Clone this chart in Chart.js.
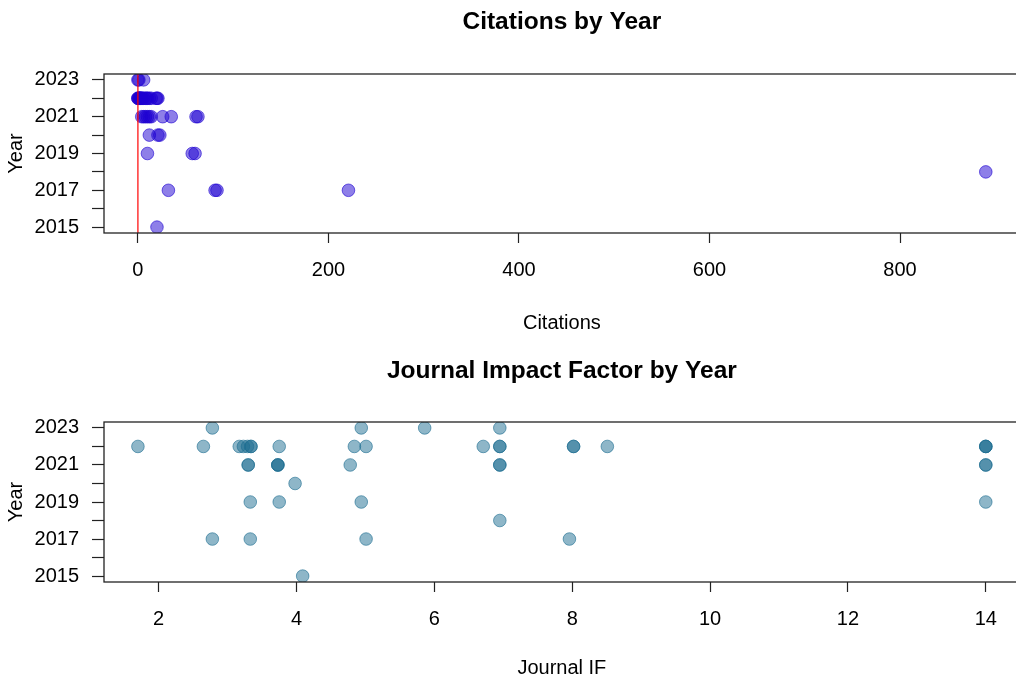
<!DOCTYPE html>
<html>
<head>
<meta charset="utf-8">
<script src="https://cdn.jsdelivr.net/npm/chart.js@4.4.1/dist/chart.umd.min.js"></script>
<style>
  html, body { margin: 0; padding: 0; background: #fff; overflow: hidden; width: 1016px; height: 682px; }
  canvas { position: absolute; left: 0; }
  #citesChart { top: 0; }
  #ifChart { top: 345px; }
</style>
</head>
<body>
<canvas id="citesChart" width="1027" height="345"></canvas>
<canvas id="ifChart" width="1027" height="337"></canvas>
<script>
// values, one entry per paper
const citeYears = [2023, 2023, 2023,
    2022, 2022, 2022, 2022, 2022, 2022, 2022, 2022, 2022, 2022, 2022, 2022, 2022, 2022, 2022, 2022, 2022, 2022, 2022,
    2021, 2021, 2021, 2021, 2021, 2021, 2021, 2021, 2021, 2021,
    2020, 2020, 2020,
    2019, 2019, 2019,
    2018,
    2017, 2017, 2017, 2017,
    2015];
const citeCounts = [0, 1, 6,
    0, 0, 1, 1, 2, 2, 3, 3, 4, 5, 6, 8, 9, 10, 12, 14, 19, 20, 21,
    4, 6, 8, 10, 12, 14, 26, 35, 61, 63,
    12, 21, 23,
    10, 57, 60,
    890,
    32, 81, 83, 221,
    20];

const ifYears = [2023, 2023, 2023, 2023,
    2022, 2022, 2022, 2022, 2022, 2022, 2022, 2022, 2022, 2022, 2022, 2022, 2022, 2022, 2022, 2022, 2022, 2022, 2022,
    2021, 2021, 2021, 2021, 2021, 2021, 2021, 2021, 2021, 2021,
    2020,
    2019, 2019, 2019, 2019,
    2018,
    2017, 2017, 2017, 2017,
    2015];
const impactFactors = [2.78, 4.94, 5.86, 6.95,
    1.70, 2.65, 3.17, 3.23, 3.29, 3.34, 3.34, 3.75, 4.84, 5.01, 6.71, 6.95, 6.95, 8.02, 8.02, 8.51, 14.0, 14.0, 14.0,
    3.30, 3.30, 3.73, 3.73, 3.73, 4.78, 6.95, 6.95, 14.0, 14.0,
    3.98,
    3.33, 3.75, 4.94, 14.0,
    6.95,
    2.78, 3.33, 5.01, 7.96,
    4.09];

const yearTicks = [2015, 2016, 2017, 2018, 2019, 2020, 2021, 2022, 2023];
const yearLabels = ['2015', '', '2017', '', '2019', '', '2021', '', '2023'];
const citeTicks = [0, 200, 400, 600, 800];
const ifTicks = [2, 4, 6, 8, 10, 12, 14];

const FONT = "'Liberation Sans', Arial, Helvetica, sans-serif";

// R style 4% range padding
function paddedRange(vals) {
    const lo = Math.min(...vals), hi = Math.max(...vals);
    const pad = (hi - lo) * 0.04;
    return [lo - pad, hi + pad];
}

// draws the plot frame around the chart area
const boxPlugin = {
    id: 'box',
    afterDraw(chart) {
        const { ctx, chartArea: a } = chart;
        ctx.save();
        ctx.strokeStyle = '#222';
        ctx.lineWidth = 1.3;
        ctx.strokeRect(a.left, a.top, a.right - a.left, a.bottom - a.top);
        ctx.restore();
    }
};

function makeChart(id, cfg) {
    const [xMin, xMax] = paddedRange(cfg.xs);
    const [yMin, yMax] = paddedRange(yearTicks);
    const points = cfg.xs.map((v, i) => ({ x: v, y: cfg.ys[i] }));
    const datasets = [];
    if (cfg.refLine) {
        datasets.push({
            data: [{ x: 0, y: yMin }, { x: 0, y: yMax }],
            showLine: true,
            borderColor: '#ff0000',
            borderWidth: 1.2,
            pointRadius: 0
        });
    }
    datasets.push({
        data: points,
        backgroundColor: cfg.fill,
        borderColor: cfg.stroke,
        borderWidth: 1,
        pointRadius: 6.3,
        pointHoverRadius: 6.3
    });

    return new Chart(document.getElementById(id), {
        type: 'scatter',
        data: { datasets: datasets },
        options: {
            responsive: false,
            animation: false,
            layout: { padding: 0 },
            plugins: {
                legend: { display: false },
                tooltip: { enabled: false },
                title: {
                    display: true,
                    fullSize: false,
                    text: cfg.title,
                    color: '#000',
                    font: { family: FONT, size: 24.5, weight: 'bold' },
                    padding: { top: cfg.titleTop, bottom: cfg.titleBottom }
                }
            },
            scales: {
                x: {
                    type: 'linear',
                    min: xMin,
                    max: xMax,
                    afterBuildTicks: s => { s.ticks = cfg.xTicks.map(v => ({ value: v })); },
                    afterFit: s => { s.height = cfg.xHeight; },
                    grid: { drawOnChartArea: false, drawTicks: true, tickLength: 10, tickColor: '#222', tickWidth: 1.2 },
                    border: { display: false },
                    ticks: { color: '#000', font: { family: FONT, size: 20 }, padding: 15, maxRotation: 0, autoSkip: false },
                    title: {
                        display: true,
                        text: cfg.xTitle,
                        color: '#000',
                        font: { family: FONT, size: 20 },
                        padding: { top: 0, bottom: cfg.xTitlePad }
                    }
                },
                y: {
                    type: 'linear',
                    min: yMin,
                    max: yMax,
                    afterBuildTicks: s => { s.ticks = yearTicks.map(v => ({ value: v })); },
                    afterFit: s => { s.width = 104; },
                    grid: { drawOnChartArea: false, drawTicks: true, tickLength: 12, tickColor: '#222', tickWidth: 1.2 },
                    border: { display: false },
                    ticks: {
                        color: '#000',
                        font: { family: FONT, size: 20 },
                        padding: 13,
                        autoSkip: false,
                        callback: (v) => yearLabels[yearTicks.indexOf(v)]
                    },
                    title: {
                        display: true,
                        text: 'Year',
                        color: '#000',
                        font: { family: FONT, size: 20 },
                        padding: { top: 4, bottom: 0 }
                    }
                }
            }
        },
        plugins: [boxPlugin]
    });
}

makeChart('citesChart', {
    xs: citeCounts,
    ys: citeYears,
    xTicks: citeTicks,
    title: 'Citations by Year',
    xTitle: 'Citations',
    titleTop: 7.3,
    titleBottom: 37.3,
    xHeight: 112,
    xTitlePad: 10,
    refLine: true,
    fill: 'rgba(30, 0, 210, 0.5)',
    stroke: 'rgba(30, 0, 210, 0.6)'
});

makeChart('ifChart', {
    xs: impactFactors,
    ys: ifYears,
    xTicks: ifTicks,
    title: 'Journal Impact Factor by Year',
    xTitle: 'Journal IF',
    titleTop: 11.3,
    titleBottom: 36.3,
    xHeight: 100,
    xTitlePad: 2,
    refLine: false,
    fill: 'rgba(30, 110, 145, 0.5)',
    stroke: 'rgba(30, 110, 145, 0.6)'
});
</script>
</body>
</html>
